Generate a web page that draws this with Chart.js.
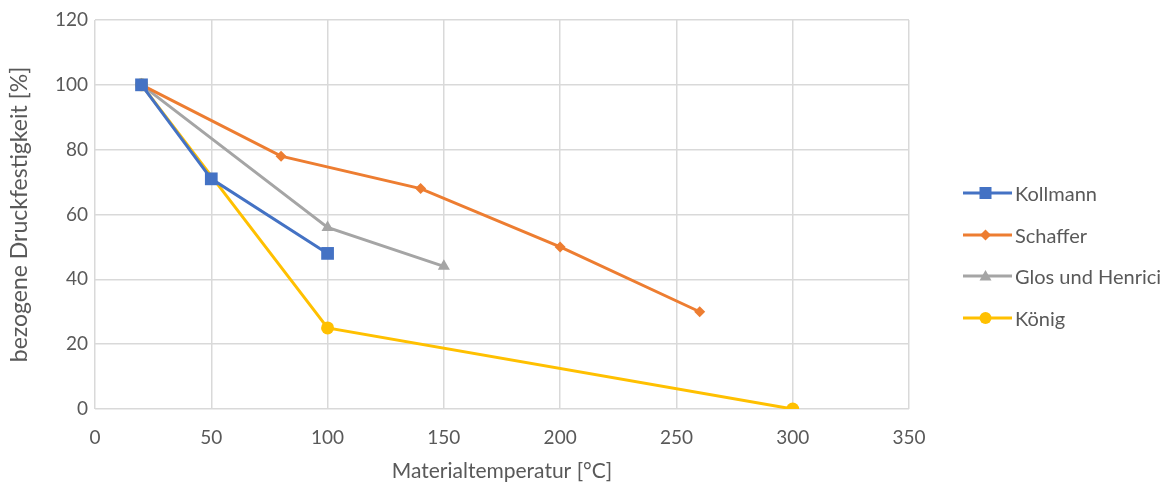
<!DOCTYPE html>
<html>
<head>
<meta charset="utf-8">
<script src="https://cdn.jsdelivr.net/npm/chart.js@4/dist/chart.umd.min.js"></script>
<style>
  html, body { margin: 0; padding: 0; background: #fff; }
  #wrap { position: relative; width: 1163px; height: 486px; overflow: hidden; }
  #legend { position: absolute; left: 961px; top: 172px; font-family: Lato, "Open Sans", sans-serif; font-size: 20px; color: #595959; white-space: nowrap; }
  #legend div { height: 41.7px; display: flex; align-items: center; }
  #legend svg { margin-right: 2px; }
</style>
</head>
<body>
<div id="wrap">
  <canvas id="chart" width="1163" height="486"></canvas>
  <div id="legend"></div>
</div>
<script>
// x = Materialtemperatur [°C], y = bezogene Druckfestigkeit [%]
const kollmannX = [20, 50, 100];
const kollmannY = [100, 71, 48];
const schafferX = [20, 80, 140, 200, 260];
const schafferY = [100, 78, 68, 50, 30];
const glosX = [20, 100, 150];
const glosY = [100, 56, 44];
const koenigX = [20, 100, 300];
const koenigY = [100, 25, 0];

const seriesNames = ['Kollmann', 'Schaffer', 'Glos und Henrici', 'König'];
const xTicks = [0, 50, 100, 150, 200, 250, 300, 350];
const yTicks = [0, 20, 40, 60, 80, 100, 120];

const textColor = '#595959';
const gridColor = '#d9d9d9';
const fontFamily = 'Lato, "Open Sans", sans-serif';

function toPoints(xs, ys) {
    return xs.map((x, i) => ({ x: x, y: ys[i] }));
}

const styles = [
    { color: '#4472C4', point: 'rect', radius: 9 },
    { color: '#ED7D31', point: 'rectRot', radius: 5.5 },
    { color: '#A5A5A5', point: 'triangle', radius: 7 },
    { color: '#FFC000', point: 'circle', radius: 6.5 }
];

const pointSets = [
    toPoints(kollmannX, kollmannY),
    toPoints(schafferX, schafferY),
    toPoints(glosX, glosY),
    toPoints(koenigX, koenigY)
];

const datasets = seriesNames.map((name, i) => ({
    label: name,
    data: pointSets[i],
    borderColor: styles[i].color,
    backgroundColor: styles[i].color,
    borderWidth: 3,
    pointStyle: styles[i].point,
    pointRadius: styles[i].radius,
    pointBorderWidth: 0,
    pointHoverRadius: styles[i].radius,
    showLine: true,
    tension: 0
}));

new Chart(document.getElementById('chart'), {
    type: 'scatter',
    data: { datasets: datasets },
    options: {
        responsive: false,
        animation: false,
        layout: { padding: { top: 20, right: 254, left: 0, bottom: 0 } },
        plugins: {
            legend: { display: false },
            tooltip: { enabled: false }
        },
        scales: {
            x: {
                type: 'linear',
                min: 0,
                max: 350,
                afterBuildTicks: axis => { axis.ticks = xTicks.map(v => ({ value: v })); },
                afterFit: axis => { axis.height = 77; axis.paddingLeft = 0; axis.paddingRight = 0; },
                grid: { color: gridColor, lineWidth: 1.5, drawTicks: false },
                border: { display: false },
                ticks: { color: textColor, font: { family: fontFamily, size: 19 }, padding: 17, maxRotation: 0 },
                title: {
                    display: true,
                    text: 'Materialtemperatur [°C]',
                    color: textColor,
                    font: { family: fontFamily, size: 21 },
                    padding: { top: 2, bottom: 2 }
                }
            },
            y: {
                type: 'linear',
                min: 0,
                max: 120,
                afterBuildTicks: axis => { axis.ticks = yTicks.map(v => ({ value: v })); },
                afterFit: axis => { axis.width = 95; axis.paddingTop = 0; axis.paddingBottom = 0; },
                grid: { color: gridColor, lineWidth: 1.5, drawTicks: false },
                border: { display: false },
                ticks: { color: textColor, font: { family: fontFamily, size: 19 }, padding: 7 },
                title: {
                    display: true,
                    text: 'bezogene Druckfestigkeit [%]',
                    color: textColor,
                    font: { family: fontFamily, size: 23 },
                    padding: { top: 6, bottom: 6 }
                }
            }
        }
    }
});

// HTML legend: line with marker, built from the dataset styles
const legend = document.getElementById('legend');
seriesNames.forEach((name, i) => {
    const s = styles[i];
    let marker = '';
    if (s.point === 'rect') marker = '<rect x="18.5" y="5" width="12" height="12" fill="' + s.color + '"/>';
    if (s.point === 'rectRot') marker = '<polygon points="24.5,5.5 30,11 24.5,16.5 19,11" fill="' + s.color + '"/>';
    if (s.point === 'triangle') marker = '<polygon points="24.5,5 30.5,15.5 18.5,15.5" fill="' + s.color + '"/>';
    if (s.point === 'circle') marker = '<circle cx="24.5" cy="11" r="6" fill="' + s.color + '"/>';
    const row = document.createElement('div');
    row.innerHTML = '<svg width="52" height="22"><line x1="2" y1="11" x2="51" y2="11" stroke="' + s.color + '" stroke-width="3"/>' + marker + '</svg><span>' + name + '</span>';
    legend.appendChild(row);
});
</script>
</body>
</html>
